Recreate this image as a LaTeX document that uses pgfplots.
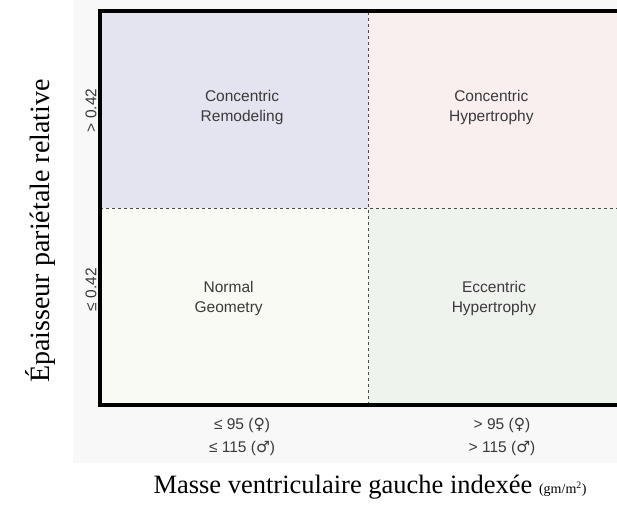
\documentclass[border=0pt]{standalone}
\usepackage{pgfplots}
\pgfplotsset{compat=1.18}
\usepackage{fontspec}
\setmainfont{Liberation Serif}
\setsansfont{Liberation Sans}
\newfontfamily\symf{DejaVu Sans}
\definecolor{qTL}{HTML}{E4E3F0}
\definecolor{qTR}{HTML}{F8EFEE}
\definecolor{qBL}{HTML}{FAFAF4}
\definecolor{qBR}{HTML}{EEF3ED}
\definecolor{bgg}{HTML}{F8F8F8}
\definecolor{txt}{HTML}{3A3A3A}
\begin{document}
\begin{tikzpicture}
\path[use as bounding box] (-100pt,-101pt) rectangle (517pt,405pt);
\fill[bgg] (-27pt,-58pt) rectangle (517pt,405pt);
\begin{axis}[
  scale only axis,
  width=517pt, height=394pt,
  xmin=0, xmax=1.929, ymin=0, ymax=2,
  axis line style={draw=none},
  clip=false,
  xtick={0.53,1.5}, ytick={0.59,1.5},
  major tick length=0pt,
  xticklabels={{≤ 95 ({\symf ♀})\\≤ 115 ({\symf ♂})},{> 95 ({\symf ♀})\\> 115 ({\symf ♂})}},
  yticklabels={≤ 0.42,> 0.42},
  xticklabel style={align=center, font=\sffamily\fontsize{15.5}{23}\selectfont, text=txt, yshift=-10pt},
  yticklabel style={rotate=90, font=\sffamily\fontsize{15.5}{18}\selectfont, text=txt, xshift=-1pt},
]
\addplot[fill=qTL, draw=none] coordinates {(0,1) (1,1) (1,2) (0,2)} -- cycle;
\addplot[fill=qTR, draw=none] coordinates {(1,1) (1.929,1) (1.929,2) (1,2)} -- cycle;
\addplot[fill=qBL, draw=none] coordinates {(0,0) (1,0) (1,1) (0,1)} -- cycle;
\addplot[fill=qBR, draw=none] coordinates {(1,0) (1.929,0) (1.929,1) (1,1)} -- cycle;
\addplot[dashed, gray!60!black, line width=0.8pt] coordinates {(1,0) (1,2)};
\addplot[dashed, gray!60!black, line width=0.8pt] coordinates {(0,1) (1.929,1)};
\addplot[black, line width=3.5pt, line join=miter] coordinates {(1.95,2) (0,2) (0,0) (1.95,0)};
\node[align=center, font=\sffamily\fontsize{15.5}{20}\selectfont, text=txt] at (axis cs:0.53,1.51) {Concentric\\Remodeling};
\node[align=center, font=\sffamily\fontsize{15.5}{20}\selectfont, text=txt] at (axis cs:1.46,1.51) {Concentric\\Hypertrophy};
\node[align=center, font=\sffamily\fontsize{15.5}{20}\selectfont, text=txt] at (axis cs:0.48,0.54) {Normal\\Geometry};
\node[align=center, font=\sffamily\fontsize{15.5}{20}\selectfont, text=txt] at (axis cs:1.47,0.54) {Eccentric\\Hypertrophy};
\end{axis}
\node[rotate=90, font=\fontsize{28}{32}\selectfont] at (-60pt,174pt) {Épaisseur pariétale relative};
\node[font=\fontsize{26.5}{30}\selectfont] at (270pt,-82pt) {Masse ventriculaire gauche indexée {\fontsize{14}{16}\selectfont(gm/m\textsuperscript{2})}};
\end{tikzpicture}
\end{document}
